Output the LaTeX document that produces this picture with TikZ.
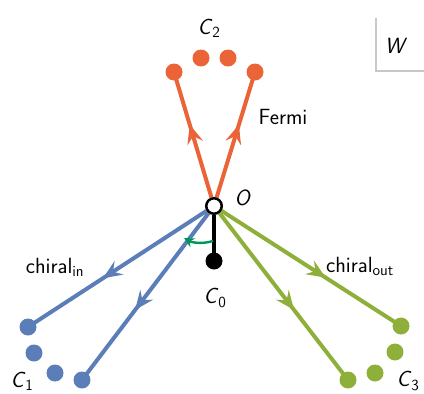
\documentclass[tikz,border=0pt]{standalone}
\usetikzlibrary{arrows.meta,decorations.markings,backgrounds}
\definecolor{forange}{HTML}{EB6437}
\definecolor{cblue}{HTML}{5B7DB8}
\definecolor{cgreen}{HTML}{8EB03A}
\definecolor{dgreen}{HTML}{00965A}
\definecolor{boxgray}{HTML}{C8C8C8}
\begin{document}
\begin{tikzpicture}[x=1pt,y=-1pt,
  every node/.style={font=\sffamily\fontsize{22}{24}\selectfont},
  dotnode/.style={circle,inner sep=0pt,minimum size=17pt},
  odot/.style={dotnode,fill=forange},
  bdot/.style={dotnode,fill=cblue},
  gdot/.style={dotnode,fill=cgreen},
  leg/.style={line width=4pt,postaction={decorate},
    decoration={markings,mark=at position 0.58 with {\arrow{Stealth[length=19pt,width=16pt,inset=7pt]}}}},
  lbl/.style={inner sep=0pt}]
\useasboundingbox (0,0) rectangle (424,394);
% W box
\draw[boxgray,line width=1.2pt] (376,18) -- (376,71) -- (424,71);
\node[lbl] (W) at (396,46) {\textsl{W}};
% center
\node[circle,draw=black,fill=white,line width=2.5pt,inner sep=0pt,minimum size=15.5pt] (O) at (214,206) {};
\node[circle,fill=black,inner sep=0pt,minimum size=17pt] (C0d) at (214,261) {};
\node[lbl] (Olbl) at (243,198) {\textsl{O}};
\node[lbl] (C0lbl) at (215,298) {\textsl{C}\textsubscript{0}};
% orange
\node[odot] (o1) at (174,72) {};
\node[odot] (o2) at (201,58) {};
\node[odot] (o3) at (228,58) {};
\node[odot] (o4) at (255,72) {};
\node[lbl] (C2lbl) at (209,28) {\textsl{C}\textsubscript{2}};
\node[lbl] (Fermi) at (283,117) {Fermi};
% blue
\node[bdot] (b1) at (28,327) {};
\node[bdot] (b2) at (34,353) {};
\node[bdot] (b3) at (55,373) {};
\node[bdot] (b4) at (82,380) {};
\node[lbl] (C1lbl) at (22,381) {\textsl{C}\textsubscript{1}};
\node[lbl] (chin) at (55,267) {chiral\textsubscript{in}};
% green
\node[gdot] (g1) at (401,326) {};
\node[gdot] (g2) at (395,352) {};
\node[gdot] (g3) at (375,373) {};
\node[gdot] (g4) at (348,380) {};
\node[lbl] (C3lbl) at (408,381) {\textsl{C}\textsubscript{3}};
\node[lbl] (chout) at (360,266) {chiral\textsubscript{out}};
\begin{scope}[on background layer]
\draw[leg,forange] (O) -- (o1.center);
\draw[leg,forange] (O) -- (o4.center);
\draw[leg,cblue] (O) -- (b1.center);
\draw[leg,cblue] (O) -- (b4.center);
\draw[leg,cgreen] (O) -- (g1.center);
\draw[leg,cgreen] (O) -- (g4.center);
\draw[line width=4pt,black] (O) -- (C0d.center);
\end{scope}
\coordinate (ga) at (213,241);
\coordinate (gb) at (184,238);
\draw[dgreen,line width=2.4pt,-{Stealth[length=10pt,width=10pt]}] (ga) .. controls (203,244) and (193,243) .. (gb);
\end{tikzpicture}
\end{document}
